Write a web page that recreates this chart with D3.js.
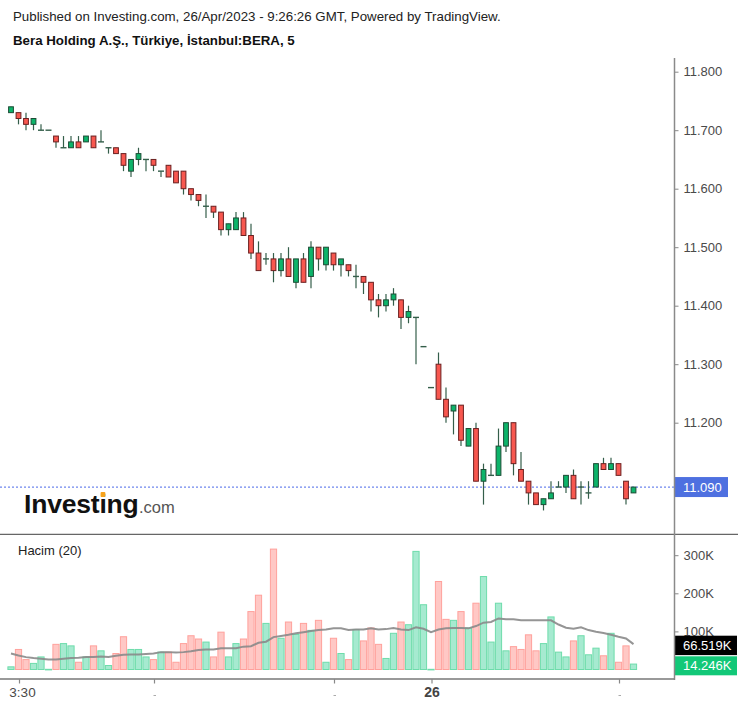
<!DOCTYPE html>
<html>
<head>
<meta charset="utf-8">
<script src="https://cdn.jsdelivr.net/npm/d3@7"></script>
<style>
  html, body { margin: 0; padding: 0; background: #ffffff; }
  svg { display: block; font-family: "Liberation Sans", Arial, sans-serif; }
</style>
</head>
<body>
<svg id="chart" width="746" height="707"></svg>
<script>
// ---------------- DATA ----------------
const openP = [11.73,11.73,11.72,11.71,11.70,11.70,11.69,11.67,11.67,11.68,11.68,11.69,11.68,11.67,11.67,11.66,11.63,11.65,11.65,11.65,11.63,11.64,11.63,11.63,11.60,11.59,11.57,11.57,11.56,11.53,11.53,11.55,11.52,11.49,11.48,11.48,11.46,11.48,11.44,11.48,11.45,11.50,11.47,11.49,11.47,11.47,11.45,11.45,11.44,11.41,11.40,11.41,11.41,11.38,11.38,11.33,11.26,11.30,11.24,11.22,11.23,11.16,11.19,11.10,11.11,11.11,11.16,11.20,11.12,11.10,11.08,11.06,11.07,11.09,11.09,11.11,11.09,11.08,11.09,11.13,11.12,11.13,11.10,11.08];
const highP = [11.74,11.73,11.73,11.72,11.71,11.70,11.69,11.69,11.69,11.69,11.69,11.69,11.70,11.67,11.67,11.66,11.65,11.67,11.65,11.65,11.63,11.64,11.63,11.63,11.60,11.59,11.59,11.57,11.56,11.54,11.56,11.56,11.54,11.51,11.49,11.49,11.49,11.50,11.48,11.49,11.51,11.50,11.50,11.49,11.48,11.47,11.47,11.45,11.44,11.42,11.42,11.43,11.41,11.40,11.38,11.33,11.26,11.32,11.26,11.23,11.23,11.19,11.20,11.13,11.13,11.19,11.20,11.20,11.15,11.10,11.08,11.07,11.10,11.10,11.11,11.12,11.10,11.10,11.13,11.14,11.14,11.13,11.10,11.09];
const lowP  = [11.73,11.71,11.70,11.70,11.70,11.70,11.67,11.67,11.67,11.67,11.68,11.67,11.68,11.66,11.66,11.63,11.62,11.64,11.63,11.63,11.62,11.62,11.61,11.59,11.58,11.57,11.55,11.55,11.52,11.52,11.53,11.52,11.48,11.46,11.47,11.44,11.45,11.45,11.43,11.44,11.43,11.46,11.46,11.46,11.45,11.45,11.43,11.42,11.39,11.38,11.39,11.40,11.36,11.37,11.30,11.33,11.26,11.24,11.20,11.18,11.16,11.16,11.10,11.06,11.11,11.11,11.15,11.11,11.10,11.06,11.06,11.05,11.07,11.09,11.08,11.07,11.06,11.07,11.09,11.12,11.12,11.11,11.06,11.08];
const closeP = [11.74,11.72,11.71,11.72,11.70,11.70,11.68,11.67,11.68,11.67,11.69,11.67,11.68,11.67,11.66,11.64,11.65,11.66,11.65,11.64,11.63,11.62,11.61,11.60,11.59,11.58,11.57,11.56,11.53,11.54,11.55,11.52,11.49,11.46,11.48,11.46,11.48,11.45,11.48,11.44,11.50,11.48,11.50,11.47,11.48,11.46,11.45,11.44,11.41,11.40,11.41,11.42,11.38,11.39,11.38,11.33,11.26,11.24,11.21,11.23,11.17,11.19,11.10,11.12,11.11,11.16,11.20,11.13,11.10,11.08,11.06,11.07,11.08,11.09,11.11,11.07,11.09,11.08,11.13,11.12,11.13,11.11,11.07,11.09];
// volume in thousands
const volumeK = [7,52.6,26,16,33,0.5,66,68,62,19,33,62,49,10.5,42,86,52.6,52.6,33,26,45.6,45.6,19,68,88.6,80,72,33,98,33,68,80,152,195,121,316,82,124.6,92,121,102.6,129,19,82,42,26,105,75,109,66,29,95,124.6,117.5,310,170,0.5,231,131.6,129,152,109,174,244,72,174,49,60,52.6,91,49,68,138,45.6,33,75,88.6,38.6,56,36,95,19,62,14.246];
// Volume moving average (20), in thousands
const volumeMAK = [42,37,32.5,30,28,26,26,28,30,31,32.5,33,34,33,36,38.6,39.5,39.5,41,42,45.6,45.6,44.7,45.6,48,51,52.6,52.6,56,56,56,60,61,70,73,85,88,91,95,98,101,103.5,105,108,108,103.5,105,105,108,105,106,109,105,103.5,111,107,98,105,108,109,109,108,114,123,124.6,134,131.6,131.6,129,129,129,129,129,118,109.6,107,111,103.5,99,95.6,91,86,81.6,66.519];
const priceTicks = [11.8, 11.7, 11.6, 11.5, 11.4, 11.3, 11.2];
const volumeTicksK = [100, 200, 300];
const xTickIndex = [1, 19, 43, 56, 81];
const xTickLabels = ["3:30", "", "", "26", ""];
const lastPrice = 11.09;
const lastVolMAK = 66.519;
const lastVolK = 14.246;

// ---------------- LAYOUT ----------------
const svg = d3.select("#chart");
svg.append("rect").attr("width", 746).attr("height", 707).attr("fill", "#ffffff");

const axisX = 674.5;
const n = openP.length;
const x = d3.scaleBand().domain(d3.range(n)).range([7.25, 7.25 + 7.5 * n]).paddingInner(0);
const cx = i => x(i) + x.bandwidth() / 2;

const yP = d3.scaleLinear().domain([11.2, 11.8]).range([422.7, 71.7]);
const yV = d3.scaleLinear().domain([0, 300]).range([669.5, 555.2]);

const GREEN_FILL = "#0db46a", GREEN_STROKE = "#1d4b35";
const RED_FILL = "#f8574f", RED_STROKE = "#6b2020";
const WICK = "#345e4a";

// titles
svg.append("text").attr("x", 13).attr("y", 21).attr("font-size", 13.3).attr("fill", "#222")
  .text("Published on Investing.com, 26/Apr/2023 - 9:26:26 GMT, Powered by TradingView.");
svg.append("text").attr("x", 13).attr("y", 45).attr("font-size", 13.3).attr("font-weight", "bold").attr("fill", "#111")
  .text("Bera Holding A.Ş., Türkiye, İstanbul:BERA, 5");

// logo
const logo = svg.append("text").attr("x", 24).attr("y", 513).attr("font-size", 26.5).attr("font-weight", "bold")
  .attr("fill", "#111").attr("letter-spacing", -0.2).text("Investing");
const logoNode = logo.node();
let iX = 100, iW = 6;
try {
  iX = 24 + logoNode.getSubStringLength(0, 6);
  iW = logoNode.getSubStringLength(6, 1);
} catch (e) {}
svg.append("rect").attr("x", iX + iW / 2 - 2.4).attr("y", 492).attr("width", 4.8).attr("height", 5).attr("rx", 1)
  .attr("fill", "#f7a21b");
const logoEnd = 24 + logoNode.getComputedTextLength();
svg.append("text").attr("x", logoEnd + 0.5).attr("y", 513).attr("font-size", 16.5).attr("fill", "#555").text(".com");

// price axis
const gP = svg.append("g").attr("transform", `translate(${axisX},0)`)
  .call(d3.axisRight(yP).tickValues(priceTicks).tickSize(4).tickPadding(5).tickFormat(d3.format(".3f")));
gP.select(".domain").remove();
gP.selectAll(".tick line").attr("stroke", "#888");
gP.selectAll(".tick text").attr("fill", "#4a4a4a").attr("font-size", 13).attr("font-family", "\"Liberation Sans\", Arial, sans-serif");

// last price dotted line
svg.append("line").attr("x1", 0).attr("x2", axisX).attr("y1", yP(lastPrice)).attr("y2", yP(lastPrice))
  .attr("stroke", "#6f87ee").attr("stroke-width", 1.2).attr("stroke-dasharray", "2,2");

// candles
const cg = svg.append("g");
for (let i = 0; i < n; i++) {
  const o = openP[i], c = closeP[i], h = highP[i], l = lowP[i];
  const up = c >= o;
  const xc = cx(i);
  if (h !== l) {
    cg.append("line").attr("x1", xc).attr("x2", xc).attr("y1", yP(h)).attr("y2", yP(l))
      .attr("stroke", WICK).attr("stroke-width", 1.2);
  }
  if (o === c) {
    cg.append("line").attr("x1", xc - 3).attr("x2", xc + 3).attr("y1", yP(o)).attr("y2", yP(o))
      .attr("stroke", WICK).attr("stroke-width", 1.4);
  } else {
    const top = yP(Math.max(o, c)), bot = yP(Math.min(o, c));
    cg.append("rect").attr("x", xc - 2.4).attr("width", 4.8).attr("y", top).attr("height", bot - top)
      .attr("fill", up ? GREEN_FILL : RED_FILL).attr("stroke", up ? GREEN_STROKE : RED_STROKE).attr("stroke-width", 1);
  }
}

// last price label
svg.append("rect").attr("x", axisX - 0.5).attr("y", yP(lastPrice) - 10).attr("width", 54).attr("height", 20).attr("fill", "#4e70e0");
svg.append("text").attr("x", axisX + 8.5).attr("y", yP(lastPrice)).attr("dy", "0.35em").attr("font-size", 13)
  .attr("fill", "#ffffff").text(d3.format(".3f")(lastPrice));

// ---------------- VOLUME PANE ----------------
svg.append("text").attr("x", 18).attr("y", 555).attr("font-size", 13).attr("fill", "#222").text("Hacim (20)");

const vg = svg.append("g");
for (let i = 0; i < n; i++) {
  const up = closeP[i] >= openP[i];
  const top = yV(volumeK[i]);
  vg.append("rect").attr("x", cx(i) - 3.1).attr("width", 6.2).attr("y", top).attr("height", Math.max(yV(0) - top, 0.6))
    .attr("fill", up ? "#a6ead0" : "#ffc8c5").attr("stroke", up ? "#6edcab" : "#ffa19c").attr("stroke-width", 1);
}
const maLine = d3.line().x((d, i) => cx(i)).y(d => yV(d));
svg.append("path").attr("d", maLine(volumeMAK)).attr("fill", "none").attr("stroke", "#8a8a8a").attr("stroke-width", 2).attr("opacity", 0.9);

const gV = svg.append("g").attr("transform", `translate(${axisX},0)`)
  .call(d3.axisRight(yV).tickValues(volumeTicksK).tickSize(4).tickPadding(5).tickFormat(d => d + "K"));
gV.select(".domain").remove();
gV.selectAll(".tick line").attr("stroke", "#888");
gV.selectAll(".tick text").attr("fill", "#4a4a4a").attr("font-size", 13).attr("font-family", "\"Liberation Sans\", Arial, sans-serif");

// volume labels
const maY = 645.4, vY = 665.8;
svg.append("rect").attr("x", axisX - 0.5).attr("y", maY - 9.7).attr("width", 63).attr("height", 19.4).attr("fill", "#000000");
svg.append("text").attr("x", axisX + 8.5).attr("y", maY).attr("dy", "0.35em").attr("font-size", 13).attr("fill", "#ffffff")
  .text(d3.format(".3f")(lastVolMAK) + "K");
svg.append("rect").attr("x", axisX - 0.5).attr("y", vY - 9.5).attr("width", 63).attr("height", 19).attr("fill", "#12c878");
svg.append("text").attr("x", axisX + 8.5).attr("y", vY).attr("dy", "0.35em").attr("font-size", 13).attr("fill", "#ffffff")
  .text(d3.format(".3f")(lastVolK) + "K");

// pane separators and axis lines
svg.append("line").attr("x1", 0).attr("x2", 738).attr("y1", 534.3).attr("y2", 534.3).attr("stroke", "#666").attr("stroke-width", 1.3);
svg.append("line").attr("x1", axisX).attr("x2", axisX).attr("y1", 58).attr("y2", 680).attr("stroke", "#8a8a8a").attr("stroke-width", 1.5);
svg.append("line").attr("x1", 0).attr("x2", axisX).attr("y1", 679).attr("y2", 679).attr("stroke", "#777").attr("stroke-width", 1.3);

// time axis
const xt = svg.append("g");
xTickIndex.forEach((idx, k) => {
  const xp = cx(idx) + 1;
  xt.append("line").attr("x1", xp).attr("x2", xp).attr("y1", 679).attr("y2", 683.5).attr("stroke", "#888").attr("stroke-width", 1.2);
  if (xTickLabels[k]) {
    const isDay = /^\d+$/.test(xTickLabels[k]);
    xt.append("text").attr("x", isDay ? xp : xp + 3).attr("y", 697).attr("text-anchor", "middle")
      .attr("font-size", isDay ? 14 : 13.5).attr("font-weight", isDay ? "bold" : "normal")
      .attr("fill", isDay ? "#444" : "#4a4a4a").text(xTickLabels[k]);
  } else {
    xt.append("line").attr("x1", xp - 1).attr("x2", xp + 1.5).attr("y1", 695.5).attr("y2", 695.5).attr("stroke", "#aaa").attr("stroke-width", 1);
  }
});
</script>
</body>
</html>
